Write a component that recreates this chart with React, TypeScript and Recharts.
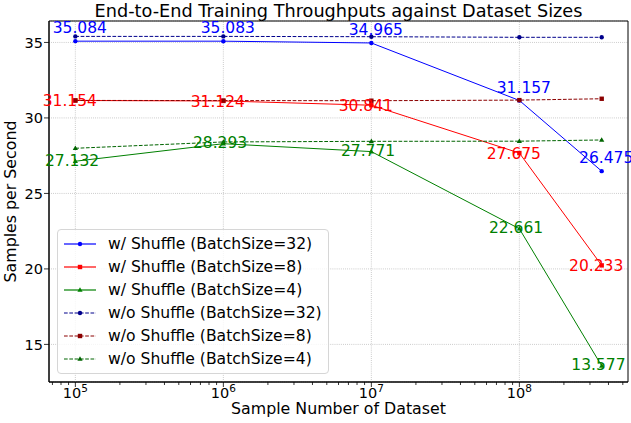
import {
  LineChart,
  Line,
  XAxis,
  YAxis,
  CartesianGrid,
  ReferenceLine,
  ReferenceArea,
  Legend,
  LabelList,
} from "recharts";

// dataset sizes (x) and throughputs (samples / second)
const sizes = [1e5, 1e6, 1e7, 1e8, 3.6e8];
const shuffle32 = [35.084, 35.083, 34.965, 31.157, 26.475];
const shuffle8 = [31.154, 31.124, 30.841, 27.675, 20.233];
const shuffle4 = [27.132, 28.293, 27.771, 22.661, 13.577];
const noShuffle32 = [35.4, 35.4, 35.38, 35.34, 35.34];
const noShuffle8 = [31.16, 31.15, 31.14, 31.18, 31.27];
const noShuffle4 = [27.99, 28.41, 28.45, 28.46, 28.54];

const xTicks = [1e5, 1e6, 1e7, 1e8];
const minorMultipliers = [2, 3, 4, 5, 6, 7, 8, 9];
const minorDecades = [1e4, 1e5, 1e6, 1e7, 1e8];
const yTicks = [15, 20, 25, 30, 35];

const X_DOMAIN: [number, number] = [66370, 5.42e8];
const Y_DOMAIN: [number, number] = [12.51, 36.42];

const minorTicks = minorDecades
  .flatMap((d) => minorMultipliers.map((m) => m * d))
  .filter((v) => v > X_DOMAIN[0] && v < X_DOMAIN[1]);
const allXTicks = [...xTicks, ...minorTicks].sort((a, b) => a - b);

const data = sizes.map((size, i) => ({
  size,
  s32: shuffle32[i],
  s8: shuffle8[i],
  s4: shuffle4[i],
  n32: noShuffle32[i],
  n8: noShuffle8[i],
  n4: noShuffle4[i],
}));

type Shape = "circle" | "square" | "triangle";

const series = [
  { key: "s32", name: "w/ Shuffle (BatchSize=32)", color: "#0000ff", dashed: false, shape: "circle" as Shape },
  { key: "s8", name: "w/ Shuffle (BatchSize=8)", color: "#ff0000", dashed: false, shape: "square" as Shape },
  { key: "s4", name: "w/ Shuffle (BatchSize=4)", color: "#008000", dashed: false, shape: "triangle" as Shape },
  { key: "n32", name: "w/o Shuffle (BatchSize=32)", color: "#00008b", dashed: true, shape: "circle" as Shape },
  { key: "n8", name: "w/o Shuffle (BatchSize=8)", color: "#8b0000", dashed: true, shape: "square" as Shape },
  { key: "n4", name: "w/o Shuffle (BatchSize=4)", color: "#006400", dashed: true, shape: "triangle" as Shape },
];

// label nudges for the annotated (w/ shuffle) series
const labelShift: Record<string, { dx: number; dy: number }> = {
  s32: { dx: 4.5, dy: -13.3 },
  s8: { dx: -5.5, dy: 0 },
  s4: { dx: -3.3, dy: -1 },
};

const FONT = "'DejaVu Sans', sans-serif";
const DASH = "3.7 1.6";
const GRID = "#b0b0b0";

function Marker({ cx, cy, shape, color }: { cx: number; cy: number; shape: Shape; color: string }) {
  if (shape === "circle") return <circle cx={cx} cy={cy} r={2.2} fill={color} />;
  if (shape === "square")
    return <rect x={cx - 2.2} y={cy - 2.2} width={4.4} height={4.4} fill={color} />;
  return (
    <polygon
      points={`${cx},${cy - 2.8} ${cx - 2.6},${cy + 1.8} ${cx + 2.6},${cy + 1.8}`}
      fill={color}
    />
  );
}

const XTick = (props: any) => {
  const { x, y, payload } = props;
  const v = payload.value;
  const major = xTicks.includes(v);
  const exp = Math.round(Math.log10(v));
  return (
    <g>
      <line x1={x} x2={x} y1={y} y2={y + (major ? 5 : 3)} stroke="#000" strokeWidth={0.8} />
      {major && (
        <text x={x} y={y + 16} textAnchor="middle" fontSize={14.5} fill="#000" fontFamily={FONT}>
          10
          <tspan dy={-6.5} fontSize={10.5}>
            {exp}
          </tspan>
        </text>
      )}
    </g>
  );
};

const makeLabel = (key: string, color: string) => (props: any) => {
  const { x, y, value } = props;
  const s = labelShift[key];
  return (
    <text
      x={x + s.dx}
      y={y + s.dy + 5.6}
      textAnchor="middle"
      fontSize={15.5}
      fill={color}
      fontFamily={FONT}
    >
      {Number(value).toFixed(3)}
    </text>
  );
};

const LegendBox = () => (
  <div
    style={{
      border: "1px solid #d6d6d6",
      borderRadius: 4,
      background: "rgba(255,255,255,0.8)",
      padding: "3px 0",
      width: 272,
      boxSizing: "border-box",
      fontFamily: FONT,
    }}
  >
    {series.map((s) => (
      <div key={s.key} style={{ display: "flex", alignItems: "center", height: 22.9 }}>
        <svg width={50} height={22} style={{ flex: "none" }}>
          <line
            x1={6}
            x2={38}
            y1={11}
            y2={11}
            stroke={s.color}
            strokeWidth={s.dashed ? 1 : 1.6}
            strokeOpacity={s.dashed ? 1 : 0.75}
            strokeDasharray={s.dashed ? DASH : undefined}
          />
          <Marker cx={22} cy={11} shape={s.shape} color={s.color} />
        </svg>
        <span style={{ fontSize: 15.6, color: "#000", whiteSpace: "nowrap" }}>{s.name}</span>
      </div>
    ))}
  </div>
);

export default function App() {
  return (
    <div
      style={{
        position: "absolute",
        left: 0,
        top: 0,
        width: 631,
        height: 423,
        background: "#fff",
        fontFamily: FONT,
      }}
    >
      <div
        style={{
          position: "absolute",
          left: 49,
          top: 0.5,
          width: 579,
          textAlign: "center",
          fontSize: 17.7,
          lineHeight: "20.6px",
          color: "#000",
          whiteSpace: "nowrap",
        }}
      >
        End-to-End Training Throughputs against Dataset Sizes
      </div>
      <LineChart
        width={631}
        height={423}
        data={data}
        margin={{ top: 21, right: 3, bottom: 0, left: 0 }}
        style={{ fontFamily: FONT }}
      >
        <CartesianGrid vertical={false} stroke={GRID} strokeDasharray="0.8 1.3" strokeWidth={0.8} />
        {xTicks.map((t) => (
          <ReferenceLine key={t} x={t} stroke={GRID} strokeDasharray="0.8 1.3" strokeWidth={0.8} />
        ))}
        <ReferenceArea
          x1={X_DOMAIN[0]}
          x2={X_DOMAIN[1]}
          y1={Y_DOMAIN[0]}
          y2={Y_DOMAIN[1]}
          fill="none"
          stroke="#000"
          strokeWidth={1}
          fillOpacity={0}
        />
        <XAxis
          dataKey="size"
          type="number"
          scale="log"
          domain={X_DOMAIN}
          allowDataOverflow
          ticks={allXTicks}
          interval={0}
          tickSize={0}
          tickMargin={0}
          tickLine={false}
          tick={<XTick />}
          height={41}
          axisLine={{ stroke: "#000" }}
          label={{
            value: "Sample Number of Dataset",
            position: "insideBottom",
            offset: 9,
            style: { fontSize: 15.8, fill: "#000", fontFamily: FONT },
          }}
        />
        <YAxis
          type="number"
          domain={Y_DOMAIN}
          allowDataOverflow
          ticks={yTicks}
          interval={0}
          width={49}
          tickSize={5}
          tickMargin={1}
          tick={{ fontSize: 14.5, fill: "#000", fontFamily: FONT }}
          tickLine={{ stroke: "#000", strokeWidth: 0.8 }}
          axisLine={{ stroke: "#000" }}
          label={{
            value: "Samples per Second",
            angle: -90,
            position: "insideLeft",
            offset: 10.5,
            style: { fontSize: 15.8, fill: "#000", textAnchor: "middle", fontFamily: FONT },
          }}
        />
        {series.map((s) => (
          <Line
            key={s.key}
            dataKey={s.key}
            name={s.name}
            type="linear"
            stroke={s.color}
            strokeWidth={1}
            strokeDasharray={s.dashed ? DASH : undefined}
            isAnimationActive={false}
            dot={(p: any) => (
              <g key={`${s.key}-${p.index}`}>
                <Marker cx={p.cx} cy={p.cy} shape={s.shape} color={s.color} />
              </g>
            )}
            activeDot={false}
          >
            {!s.dashed && <LabelList dataKey={s.key} content={makeLabel(s.key, s.color)} />}
          </Line>
        ))}
        <Legend
          layout="vertical"
          align="center"
          verticalAlign="middle"
          content={<LegendBox />}
          wrapperStyle={{ left: 57, top: 229, width: 272 }}
        />
      </LineChart>
    </div>
  );
}
